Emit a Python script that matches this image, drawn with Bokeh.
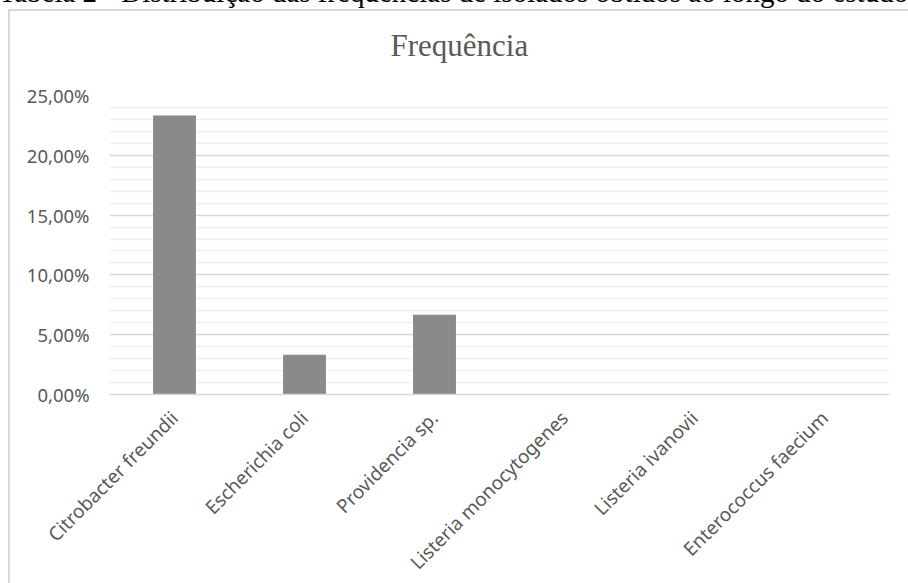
import math

from bokeh.embed import file_html
from bokeh.models import FactorRange, FixedTicker, Range1d, Title
from bokeh.plotting import figure
from bokeh.resources import INLINE

# Isolates and their relative frequency (%)
species = [
    "Citrobacter freundii",
    "Escherichia coli",
    "Providencia sp.",
    "Listeria monocytogenes",
    "Listeria ivanovii",
    "Enterococcus faecium",
]
frequency_pct = [23.33, 3.33, 6.67, 0.0, 0.0, 0.0]

y_ticks = [0, 5, 10, 15, 20, 25]
y_tick_labels = ["0,00%", "5,00%", "10,00%", "15,00%", "20,00%", "25,00%"]
y_minor_ticks = [v for v in range(0, 26) if v not in y_ticks]

chart_title = "Frequência"
caption = "Tabela 2 - Distribuição das frequências de isolados obtidos ao longo do estudo"

GREY_TEXT = "#595959"
BAR = "#8a8a8a"
EDGE = "#d9d9d9"
SHIFT = 60  # the top strip of the canvas sits above the page edge

# chart-area border: left and top edges drawn behind the transparent canvas border
area_border = (
    f"linear-gradient({EDGE}, {EDGE}) 8px {9 + SHIFT}px / 2px 100% no-repeat, "
    f"linear-gradient({EDGE}, {EDGE}) 8px {9 + SHIFT}px / 100% 2px no-repeat, white"
)

p = figure(
    frame_width=780,
    frame_height=299,
    x_range=FactorRange(*species),
    y_range=Range1d(0, 25),
    output_backend="svg",
    toolbar_location=None,
    min_border_left=109,
    min_border_right=19,
    min_border_top=95 + SHIFT,
    min_border_bottom=189,
    styles={"background": area_border, "margin-top": f"-{SHIFT}px"},
)
p.background_fill_color = "white"
p.border_fill_alpha = 0
p.outline_line_color = None

p.vbar(x=species, top=frequency_pct, width=0.33, fill_color=BAR, line_color=None)

# y axis: percent labels with comma decimals, no axis line
p.yaxis.ticker = FixedTicker(ticks=y_ticks, minor_ticks=y_minor_ticks)
p.yaxis.major_label_overrides = dict(zip(y_ticks, y_tick_labels))
p.yaxis.axis_line_color = None
p.yaxis.major_tick_line_color = None
p.yaxis.minor_tick_line_color = None
p.yaxis.major_label_standoff = 14
p.yaxis.major_label_text_font = "Noto Sans"
p.yaxis.major_label_text_font_size = "18.5px"
p.yaxis.major_label_text_color = GREY_TEXT

# x axis: slanted species names
p.xaxis.axis_line_color = EDGE
p.xaxis.axis_line_width = 1.5
p.xaxis.major_tick_line_color = None
p.xaxis.minor_tick_line_color = None
p.xaxis.major_label_orientation = math.pi / 4
p.xaxis.major_label_standoff = 14
p.xaxis.major_label_text_font = "Noto Sans"
p.xaxis.major_label_text_font_size = "19px"
p.xaxis.major_label_text_color = GREY_TEXT

p.xgrid.grid_line_color = None
p.ygrid.grid_line_color = EDGE
p.ygrid.grid_line_width = 1.5
p.ygrid.minor_grid_line_color = "#f0f0f0"
p.ygrid.minor_grid_line_width = 1.5

# gap between the chart title and the plot area
p.add_layout(Title(text=" ", standoff=19.7, text_font_size="10px",
                   text_font="Liberation Serif"), "above")

# chart title
p.add_layout(Title(
    text=chart_title, align="left", offset=281, standoff=0,
    text_font="Liberation Serif", text_font_size="31px",
    text_font_style="normal", text_color=GREY_TEXT,
), "above")

# table caption running along the top edge (outermost title)
p.title.text = caption
p.title.align = "left"
p.title.offset = -111
p.title.standoff = 34.4
p.title.text_font = "Liberation Serif"
p.title.text_font_size = "29px"
p.title.text_font_style = "normal"
p.title.text_color = "black"

open("out.html", "w").write(file_html(p, INLINE))
